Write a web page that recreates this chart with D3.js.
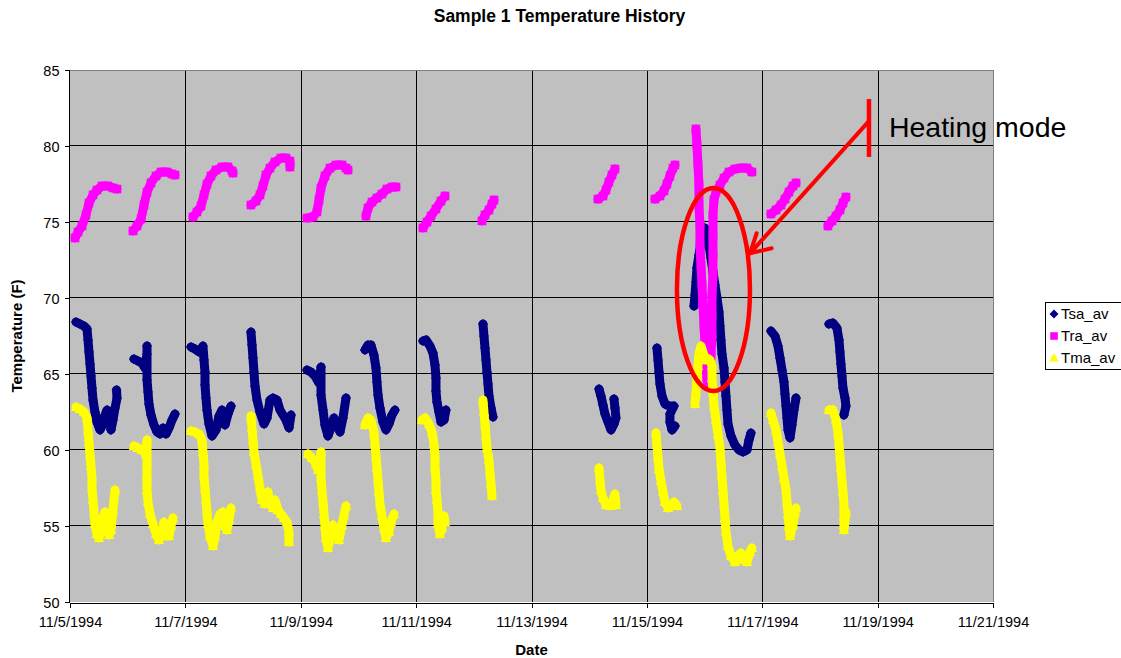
<!DOCTYPE html>
<html><head><meta charset="utf-8">
<script src="https://cdn.jsdelivr.net/npm/d3@7"></script>
<style>
body{margin:0;background:#fff}
svg{display:block}
text{font-family:"Liberation Sans",Arial,Helvetica,sans-serif;fill:#000}
</style>
</head><body>
<svg id="chart" width="1121" height="658"></svg>
<script>
// ---------------- data ----------------
const chartTitle = "Sample 1 Temperature History";
const xTitle = "Date";
const yTitle = "Temperature (F)";
const xTickLabels = ["11/5/1994","11/7/1994","11/9/1994","11/11/1994","11/13/1994","11/15/1994","11/17/1994","11/19/1994","11/21/1994"];
const yTickValues = [50,55,60,65,70,75,80,85];
const seriesNames = ["Tsa_av","Tra_av","Tma_av"];
const startDate = "11/5/1994";
// each series: list of daily segments, points = [days since 11/5/1994 00:00, value F]
const tsa_av = [
 [[0.104,68.42],[0.173,68.29],[0.243,68.16],[0.295,67.96],[0.312,67.24],[0.329,66.45],[0.347,65.66],[0.364,64.87],[0.381,64.08],[0.399,63.29],[0.433,62.5],[0.468,61.84],[0.52,61.32],[0.572,61.71],[0.607,62.3],[0.641,62.63],[0.676,61.97],[0.711,61.32],[0.745,61.97],[0.78,62.76],[0.815,63.42],[0.806,63.95]],
 [[1.109,65.99],[1.179,65.86],[1.248,65.72],[1.3,65.39],[1.335,66.32],[1.335,66.84],[1.335,64.61],[1.352,63.82],[1.369,63.03],[1.404,62.3],[1.456,61.64],[1.508,61.18],[1.56,61.05],[1.612,61.45],[1.664,61.05],[1.716,61.45],[1.768,61.97],[1.82,62.37]],
 [[2.097,66.78],[2.167,66.64],[2.236,66.45],[2.305,66.84],[2.323,65.92],[2.34,65.13],[2.34,64.28],[2.357,63.42],[2.375,62.63],[2.409,61.71],[2.461,60.92],[2.531,61.32],[2.583,62.24],[2.635,62.63],[2.687,61.64],[2.739,62.37],[2.791,62.89]],
 [[3.137,67.76],[3.155,66.91],[3.172,66.05],[3.189,65.13],[3.207,64.21],[3.241,63.29],[3.293,62.5],[3.363,61.71],[3.415,62.11],[3.467,63.29],[3.519,63.42],[3.588,63.29],[3.64,62.63],[3.692,62.3],[3.744,61.97],[3.796,61.45],[3.831,62.3]],
 [[4.108,65.26],[4.177,65.13],[4.247,64.87],[4.316,64.41],[4.351,65.46],[4.351,63.62],[4.386,62.63],[4.42,61.64],[4.472,60.92],[4.524,61.45],[4.576,62.11],[4.628,61.64],[4.68,61.18],[4.732,62.11],[4.784,63.42]],
 [[5.113,66.58],[5.165,66.91],[5.217,66.91],[5.269,66.25],[5.304,65.39],[5.321,64.47],[5.339,63.62],[5.373,62.76],[5.425,61.84],[5.477,61.32],[5.529,61.71],[5.581,62.3],[5.633,62.63]],
 [[6.119,67.17],[6.171,67.24],[6.24,66.84],[6.292,66.38],[6.327,65.59],[6.344,64.74],[6.344,63.88],[6.361,63.16],[6.396,62.5],[6.431,61.84],[6.483,61.97],[6.517,62.63]],
 [[7.159,68.29],[7.176,67.5],[7.194,66.71],[7.211,65.92],[7.228,65.13],[7.246,64.34],[7.263,63.55],[7.298,62.76],[7.332,62.17]],
 [[9.17,64.01],[9.204,63.55],[9.239,62.96],[9.274,62.37],[9.326,61.84],[9.378,61.32],[9.43,61.71],[9.464,62.11],[9.447,62.76],[9.43,63.36]],
 [[10.175,66.71],[10.193,65.92],[10.21,65.13],[10.227,64.34],[10.262,63.55],[10.314,63.03],[10.383,62.89],[10.47,62.89],[10.4,62.37],[10.4,61.84],[10.435,61.32],[10.487,61.58]],
 [[10.817,69.47],[10.834,70.2],[10.851,71.05],[10.868,71.97],[10.903,72.83],[10.938,73.68],[10.972,74.34],[11.007,74.61],[11.042,74.34],[11.076,73.49],[11.111,72.63],[11.146,71.71],[11.18,70.86],[11.215,70.0],[11.25,69.08],[11.267,68.16],[11.284,67.24],[11.302,66.32],[11.337,65.39],[11.354,64.47],[11.371,63.55],[11.388,62.63],[11.406,61.71],[11.458,60.92],[11.527,60.33],[11.596,60.0],[11.666,59.87],[11.735,60.0],[11.77,60.66],[11.804,61.12]],
 [[12.151,67.83],[12.221,67.5],[12.273,66.84],[12.308,66.05],[12.342,65.26],[12.377,64.47],[12.394,63.68],[12.412,62.89],[12.429,62.11],[12.446,61.32],[12.481,60.79],[12.515,61.64],[12.55,62.63],[12.585,63.42]],
 [[13.156,68.29],[13.226,68.36],[13.295,68.03],[13.33,67.24],[13.347,66.45],[13.364,65.66],[13.382,64.87],[13.399,64.08],[13.434,63.42],[13.451,62.89],[13.416,62.3]]
];
const tra_av = [
 [[0.087,73.95],[0.139,74.34],[0.208,74.74],[0.277,75.46],[0.329,76.25],[0.399,76.78],[0.468,77.1],[0.555,77.37],[0.659,77.37],[0.745,77.24],[0.815,77.17]],
 [[1.092,74.41],[1.161,74.74],[1.231,75.2],[1.283,76.12],[1.335,76.97],[1.404,77.57],[1.491,78.03],[1.577,78.29],[1.681,78.29],[1.768,78.16],[1.82,78.09]],
 [[2.132,75.33],[2.201,75.66],[2.271,76.05],[2.323,76.78],[2.375,77.5],[2.444,78.03],[2.531,78.42],[2.635,78.62],[2.739,78.62],[2.808,78.36],[2.826,78.22]],
 [[3.137,76.12],[3.224,76.38],[3.293,76.78],[3.345,77.37],[3.397,78.09],[3.467,78.55],[3.553,78.95],[3.657,79.21],[3.744,79.21],[3.813,79.01],[3.813,78.62]],
 [[4.108,75.26],[4.212,75.33],[4.281,75.66],[4.316,76.45],[4.351,77.24],[4.42,78.03],[4.507,78.55],[4.611,78.75],[4.715,78.75],[4.784,78.55],[4.819,78.42]],
 [[5.131,75.39],[5.165,75.92],[5.235,76.32],[5.321,76.58],[5.408,76.84],[5.495,77.17],[5.581,77.3],[5.651,77.3]],
 [[6.119,74.61],[6.188,75.0],[6.258,75.39],[6.344,75.86],[6.431,76.38],[6.5,76.71]],
 [[7.142,75.07],[7.194,75.46],[7.263,75.79],[7.315,76.18],[7.35,76.45]],
 [[9.152,76.51],[9.239,76.71],[9.291,77.11],[9.343,77.63],[9.395,78.09],[9.447,78.49]],
 [[10.14,76.51],[10.227,76.71],[10.296,77.04],[10.348,77.5],[10.4,78.03],[10.452,78.55],[10.487,78.75]],
 [[10.851,81.12],[10.868,80.07],[10.886,78.75],[10.903,77.43],[10.903,76.12],[10.92,74.8],[10.92,73.49],[10.938,72.17],[10.955,70.86],[10.972,69.54],[10.99,68.22],[11.007,66.91],[11.024,65.79],[11.042,64.74],[11.059,64.21],[11.094,64.93],[11.111,66.25],[11.129,67.57],[11.129,68.88],[11.129,70.2],[11.146,71.51],[11.146,72.83],[11.146,74.14],[11.146,75.46],[11.163,76.45],[11.198,76.97],[11.267,77.43],[11.337,77.89],[11.423,78.29],[11.527,78.49],[11.631,78.55],[11.735,78.55],[11.821,78.29]],
 [[12.151,75.53],[12.238,75.79],[12.325,76.12],[12.394,76.51],[12.463,76.97],[12.533,77.37],[12.585,77.57]],
 [[13.139,74.74],[13.209,75.07],[13.278,75.39],[13.347,75.79],[13.399,76.25],[13.451,76.64]]
];
const tma_av = [
 [[0.104,62.83],[0.173,62.7],[0.243,62.5],[0.295,62.11],[0.312,61.32],[0.329,60.53],[0.347,59.74],[0.364,58.95],[0.381,58.22],[0.381,57.5],[0.399,56.71],[0.416,55.92],[0.433,55.13],[0.468,54.47],[0.503,54.21],[0.537,54.74],[0.572,55.53],[0.607,55.92],[0.641,55.07],[0.676,54.41],[0.711,54.74],[0.745,56.05],[0.78,57.37]],
 [[1.109,60.26],[1.179,60.13],[1.248,60.0],[1.317,59.74],[1.335,60.66],[1.335,59.21],[1.335,58.29],[1.335,57.37],[1.352,56.58],[1.387,55.79],[1.439,55.13],[1.491,54.47],[1.543,54.08],[1.595,54.74],[1.629,55.26],[1.664,54.34],[1.716,54.34],[1.751,55.0],[1.785,55.53]],
 [[2.097,61.25],[2.167,61.18],[2.236,61.05],[2.288,60.66],[2.305,59.87],[2.323,59.01],[2.323,58.29],[2.34,57.5],[2.357,56.71],[2.375,55.92],[2.392,55.13],[2.427,54.34],[2.479,53.68],[2.513,54.34],[2.548,55.26],[2.6,55.79],[2.652,55.92],[2.686,55.0],[2.721,54.74],[2.756,55.39],[2.791,56.18]],
 [[3.137,62.24],[3.155,61.45],[3.172,60.66],[3.189,59.87],[3.224,59.08],[3.259,58.29],[3.293,57.5],[3.328,56.71],[3.38,56.45],[3.432,57.24],[3.467,56.45],[3.519,56.18],[3.553,56.71],[3.605,56.05],[3.657,55.79],[3.709,55.53],[3.761,55.26],[3.796,54.61],[3.796,53.95]],
 [[4.125,59.74],[4.194,59.47],[4.264,59.08],[4.299,58.68],[4.351,59.87],[4.351,58.16],[4.368,57.37],[4.386,56.58],[4.403,55.79],[4.42,55.0],[4.437,54.21],[4.472,53.55],[4.524,54.41],[4.559,55.07],[4.611,54.61],[4.663,54.08],[4.715,55.07],[4.749,55.72],[4.784,56.32]],
 [[5.113,61.64],[5.165,62.11],[5.217,61.97],[5.269,61.18],[5.287,60.39],[5.304,59.61],[5.321,58.82],[5.339,58.03],[5.356,57.24],[5.373,56.45],[5.408,55.66],[5.443,54.87],[5.477,54.21],[5.529,54.61],[5.564,55.26],[5.616,55.79]],
 [[6.102,61.97],[6.154,62.11],[6.223,61.71],[6.275,61.18],[6.309,60.39],[6.327,59.61],[6.327,58.82],[6.344,58.03],[6.344,57.37],[6.361,56.71],[6.379,55.92],[6.379,55.13],[6.413,54.47],[6.448,54.87],[6.483,55.66],[6.5,55.26]],
 [[7.159,63.29],[7.176,62.5],[7.194,61.71],[7.211,60.92],[7.228,60.13],[7.263,59.34],[7.28,58.55],[7.298,57.76],[7.315,56.97]],
 [[9.17,58.82],[9.187,58.03],[9.204,57.37],[9.239,56.84],[9.291,56.38],[9.361,56.32],[9.413,56.71],[9.447,57.11],[9.464,56.38]],
 [[10.158,61.12],[10.175,60.33],[10.193,59.54],[10.21,58.75],[10.245,57.96],[10.279,57.24],[10.314,56.58],[10.366,56.18],[10.418,56.32],[10.47,56.58],[10.521,56.32]],
 [[10.834,63.03],[10.851,63.82],[10.868,64.61],[10.886,65.53],[10.903,66.32],[10.938,66.84],[10.972,66.45],[11.007,65.92],[11.042,66.05],[11.094,65.92],[11.129,65.53],[11.129,64.74],[11.146,63.82],[11.163,62.89],[11.198,61.97],[11.232,61.05],[11.267,60.13],[11.284,59.21],[11.302,58.29],[11.319,57.37],[11.337,56.45],[11.354,55.53],[11.371,54.61],[11.406,53.68],[11.458,53.03],[11.527,52.63],[11.579,53.03],[11.631,53.22],[11.683,52.76],[11.735,52.63],[11.787,53.29],[11.821,53.55]],
 [[12.151,62.43],[12.186,61.97],[12.238,61.32],[12.273,60.53],[12.308,59.74],[12.342,58.95],[12.377,58.16],[12.412,57.37],[12.429,56.58],[12.446,55.79],[12.463,55.0],[12.481,54.34],[12.533,55.07],[12.568,55.92],[12.585,56.18]],
 [[13.156,62.63],[13.226,62.63],[13.278,61.97],[13.312,61.18],[13.33,60.39],[13.347,59.61],[13.364,58.82],[13.382,58.03],[13.399,57.24],[13.416,56.45],[13.416,55.66],[13.416,54.74],[13.451,55.92]]
];
// annotation (data units: days since start, degrees F)
const annotationText = "Heating mode";
const annotationEllipse = {center:[11.154,70.56], radii:[0.633,6.68]};
const annotationArrow = {from:[13.841,81.6], to:[11.787,72.94], barbs:[[11.903,74.26],[12.163,73.27]]};
const annotationBar = {t:13.85, v:[83.09,79.28]};
const annotationLabel = [14.196,80.6];

// ---------------- drawing ----------------
const W = 1121, H = 658;
const P = {left:70, right:993, top:70, bottom:602};
const parse = d3.timeParse("%m/%d/%Y");
const t0 = parse(startDate);
const day = t => new Date(t0.getTime() + t*86400000);
const xTicks = xTickLabels.map(parse);

const x = d3.scaleTime().domain([xTicks[0], xTicks[xTicks.length-1]]).range([P.left, P.right]);
const y = d3.scaleLinear().domain([yTickValues[0], yTickValues[yTickValues.length-1]]).range([P.bottom, P.top]);
const X = t => x(day(t));

const svg = d3.select("#chart");
svg.append("rect").attr("width",W).attr("height",H).attr("fill","#fff");

// plot area
svg.append("rect").attr("x",P.left).attr("y",P.top).attr("width",P.right-P.left).attr("height",P.bottom-P.top).attr("fill","#c0c0c0");

const crisp = v => Math.round(v) + 0.5;
const grid = svg.append("g").attr("shape-rendering","crispEdges");
yTickValues.slice(1,-1).forEach(v=>{
  grid.append("line").attr("x1",P.left).attr("x2",P.right).attr("y1",crisp(y(v))-1).attr("y2",crisp(y(v))-1).attr("stroke","#000");
});
xTicks.slice(1,-1).forEach(d=>{
  grid.append("line").attr("x1",crisp(x(d))).attr("x2",crisp(x(d))).attr("y1",P.top).attr("y2",P.bottom).attr("stroke","#000");
});
// borders
grid.append("line").attr("x1",P.left).attr("x2",P.right).attr("y1",P.top+0.5).attr("y2",P.top+0.5).attr("stroke","#808080");
grid.append("line").attr("x1",P.right+0.5).attr("x2",P.right+0.5).attr("y1",P.top).attr("y2",P.bottom).attr("stroke","#808080");

// axes
const yAxis = d3.axisLeft(y).tickValues(yTickValues).tickSize(5).tickPadding(5);
const gy = svg.append("g").attr("transform",`translate(${P.left-0.5},0)`).call(yAxis);
const xAxis = d3.axisBottom(x).tickValues(xTicks).tickSize(5).tickPadding(9).tickFormat(d3.timeFormat("%-m/%-d/%Y"));
const gx = svg.append("g").attr("transform",`translate(0,${P.bottom+0.5})`).call(xAxis);
[gx,gy].forEach(g=>{
  g.select(".domain").attr("stroke","#000").attr("shape-rendering","crispEdges");
  g.selectAll(".tick line").attr("stroke","#000").attr("shape-rendering","crispEdges");
  g.selectAll(".tick text").attr("font-size","14.5px").attr("font-family","Liberation Sans, Arial, sans-serif").attr("fill","#000");
});
gy.select(".domain").attr("d",`M-5,${P.top}H0V${P.bottom}`);
gy.selectAll(".tick text").attr("dy","0.36em");

// series
const colors = ["#000080","#ff00ff","#ffff00"];
const shapes = [
  "M0,-5L5,0L0,5L-5,0Z",
  "M-4.3,-4.3H4.3V4.3H-4.3Z",
  "M0,-5.5L5.2,4H-5.2Z"
];
const legendShapes = [
  "M0,-4.5L4.5,0L0,4.5L-4.5,0Z",
  "M-3.8,-3.8H3.8V3.8H-3.8Z",
  "M0,-5L4.7,3.6H-4.7Z"
];
const line = d3.line().x(d=>X(d[0])).y(d=>y(d[1]));
[tsa_av, tra_av, tma_av].forEach((series,i)=>{
  const g = svg.append("g");
  series.forEach(seg=>{
    g.append("path").attr("d",line(seg)).attr("fill","none").attr("stroke",colors[i])
      .attr("stroke-width",9).attr("stroke-linejoin","round").attr("stroke-linecap","round");
  });
  g.selectAll("path.m").data(series.flat()).join("path").attr("class","m")
    .attr("d",shapes[i]).attr("transform",d=>`translate(${X(d[0])},${y(d[1])})`)
    .attr("fill",colors[i]);
});

// titles
svg.append("text").attr("x",(P.left+P.right)/2+28).attr("y",22).attr("text-anchor","middle")
  .attr("font-weight","bold").attr("font-size","17.5px").text(chartTitle);
svg.append("text").attr("x",(P.left+P.right)/2).attr("y",655).attr("text-anchor","middle")
  .attr("font-weight","bold").attr("font-size","15px").text(xTitle);
svg.append("text").attr("transform",`translate(22,${(P.top+P.bottom)/2}) rotate(-90)`).attr("text-anchor","middle")
  .attr("font-weight","bold").attr("font-size","15px").text(yTitle);

// legend
const lg = svg.append("g");
lg.append("rect").attr("x",1045.5).attr("y",302.5).attr("width",100).attr("height",67).attr("fill","#fff").attr("stroke","#000").attr("shape-rendering","crispEdges");
seriesNames.forEach((n,i)=>{
  const cy = 314 + i*22;
  lg.append("path").attr("d",legendShapes[i]).attr("transform",`translate(1054,${cy})`).attr("fill",colors[i]);
  lg.append("text").attr("x",1061).attr("y",cy).attr("dy","0.36em").attr("font-size","15px").text(n);
});

// annotation
const red = "#ff0000";
const an = svg.append("g");
const ec = annotationEllipse.center, er = annotationEllipse.radii;
an.append("ellipse").attr("cx",X(ec[0])).attr("cy",y(ec[1]))
  .attr("rx",X(ec[0]+er[0])-X(ec[0])).attr("ry",y(ec[1]-er[1])-y(ec[1]))
  .attr("fill","none").attr("stroke",red).attr("stroke-width",4.5);
an.append("line").attr("x1",X(annotationArrow.from[0])).attr("y1",y(annotationArrow.from[1]))
  .attr("x2",X(annotationArrow.to[0])).attr("y2",y(annotationArrow.to[1])).attr("stroke",red).attr("stroke-width",4);
annotationArrow.barbs.forEach(b=>{
  an.append("line").attr("x1",X(annotationArrow.to[0])).attr("y1",y(annotationArrow.to[1]))
    .attr("x2",X(b[0])).attr("y2",y(b[1])).attr("stroke",red).attr("stroke-width",4).attr("stroke-linecap","round");
});
an.append("line").attr("x1",X(annotationBar.t)).attr("x2",X(annotationBar.t))
  .attr("y1",y(annotationBar.v[0])).attr("y2",y(annotationBar.v[1])).attr("stroke",red).attr("stroke-width",4.5);
an.append("text").attr("x",X(annotationLabel[0])).attr("y",y(annotationLabel[1])).attr("font-size","28.5px").text(annotationText);
</script>
</body></html>
